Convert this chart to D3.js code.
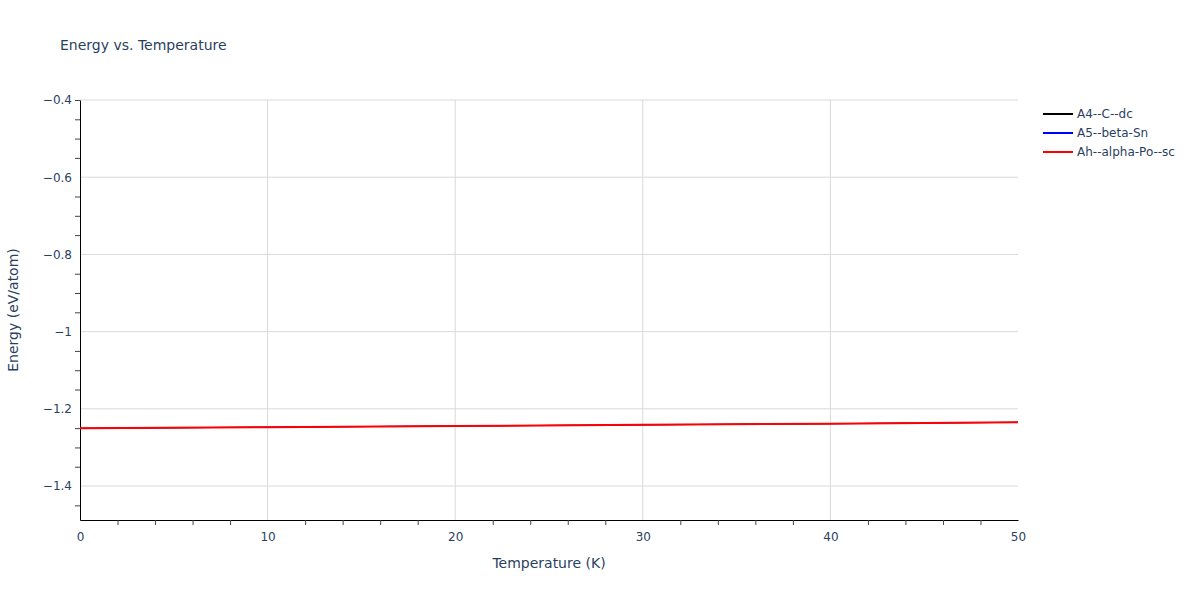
<!DOCTYPE html>
<html>
<head>
<meta charset="utf-8">
<script src="https://cdn.jsdelivr.net/npm/d3@7"></script>
<style>
body { margin: 0; background: #fff; }
text { font-family: "DejaVu Sans", Verdana, sans-serif; fill: #2a3f5f; }
</style>
</head>
<body>
<div id="chart"></div>
<script>
// data
var temps = [0, 10, 20, 30, 40, 50];
var seriesNames = ["A4--C--dc", "A5--beta-Sn", "Ah--alpha-Po--sc"];
var seriesColors = ["black", "blue", "red"];
var energyDc = [-1.2505, -1.2475, -1.2445, -1.2415, -1.2385, -1.2350];
var energySn = [-1.2505, -1.2475, -1.2445, -1.2415, -1.2385, -1.2350];
var energySc = [-1.2505, -1.2475, -1.2445, -1.2415, -1.2385, -1.2350];
var xTicks = [0, 10, 20, 30, 40, 50];
var yTicks = [-1.4, -1.2, -1, -0.8, -0.6, -0.4];

var W = 1200, H = 600,
    margin = {top: 100, right: 182, bottom: 80, left: 80},
    w = W - margin.left - margin.right,
    h = H - margin.top - margin.bottom;

var svg = d3.select("#chart").append("svg")
    .attr("width", W)
    .attr("height", H);

var g = svg.append("g")
    .attr("transform", "translate(" + margin.left + "," + margin.top + ")");

var x = d3.scaleLinear().domain([0, 50]).range([0, w]);
var y = d3.scaleLinear().domain([-1.488, -0.4]).range([h, 0]);

// grid
g.append("g").selectAll("line")
    .data(xTicks.filter(function(d) { return d > 0 && d < 50; }))
    .enter().append("line")
        .attr("x1", function(d) { return x(d); })
        .attr("x2", function(d) { return x(d); })
        .attr("y1", 0).attr("y2", h)
        .attr("stroke", "#d9d9d9");
g.append("g").selectAll("line")
    .data(yTicks)
    .enter().append("line")
        .attr("x1", 0).attr("x2", w)
        .attr("y1", function(d) { return y(d); })
        .attr("y2", function(d) { return y(d); })
        .attr("stroke", "#d9d9d9");

// x axis
var xAxis = g.append("g")
    .attr("transform", "translate(0," + h + ")")
    .call(d3.axisBottom(x).tickValues(xTicks).tickSize(0).tickPadding(12)
        .tickFormat(d3.format("d")));
var xMinor = g.append("g")
    .attr("transform", "translate(0," + h + ")")
    .call(d3.axisBottom(x).tickValues(d3.range(2, 50, 2).filter(function(d) { return d % 10 != 0; }))
        .tickSize(5).tickFormat(""));

// y axis
var yAxis = g.append("g")
    .call(d3.axisLeft(y).tickValues(yTicks).tickSize(0).tickPadding(8)
        .tickFormat(function(d) { return d3.format("")(d).replace("-", "\u2212"); }));
var yMinor = g.append("g")
    .call(d3.axisLeft(y).tickValues([-1.45, -1.35, -1.3, -1.25, -1.15, -1.1, -1.05, -0.95, -0.9, -0.85,
        -0.75, -0.7, -0.65, -0.55, -0.5, -0.45, -0.4]).tickSize(5).tickFormat(""));

[xAxis, xMinor, yAxis, yMinor].forEach(function(a) {
    a.select(".domain").attr("stroke", "#000");
    a.selectAll(".tick line").attr("stroke", "#444");
    a.selectAll("text").style("font-size", "12px").attr("fill", "#2a3f5f")
        .style("font-family", "'DejaVu Sans', Verdana, sans-serif");
});
xMinor.select(".domain").remove();
yMinor.select(".domain").remove();

// lines (red drawn last, covering the identical black and blue ones)
var line = d3.line()
    .x(function(d) { return x(d[0]); })
    .y(function(d) { return y(d[1]); });
[energyDc, energySn, energySc].forEach(function(vals, i) {
    g.append("path")
        .datum(temps.map(function(t, j) { return [t, vals[j]]; }))
        .attr("fill", "none")
        .attr("stroke", seriesColors[i])
        .attr("stroke-width", i == 2 ? 2 : 1)
        .attr("d", line);
});

// titles
svg.append("text")
    .attr("x", 60).attr("y", 50)
    .style("font-size", "14px")
    .text("Energy vs. Temperature");
svg.append("text")
    .attr("x", margin.left + w/2).attr("y", 568)
    .attr("text-anchor", "middle")
    .style("font-size", "14px")
    .text("Temperature (K)");
svg.append("text")
    .attr("transform", "translate(18," + (margin.top + h/2) + ") rotate(-90)")
    .attr("text-anchor", "middle")
    .style("font-size", "14px")
    .text("Energy (eV/atom)");

// legend
var legend = svg.append("g").attr("transform", "translate(1043,114)");
seriesNames.forEach(function(name, i) {
    var row = legend.append("g").attr("transform", "translate(0," + (i * 19) + ")");
    row.append("line")
        .attr("x1", 0).attr("x2", 30)
        .attr("stroke", seriesColors[i]).attr("stroke-width", 2);
    row.append("text")
        .attr("x", 34).attr("y", 4)
        .style("font-size", "12px")
        .text(name);
});
</script>
</body>
</html>
